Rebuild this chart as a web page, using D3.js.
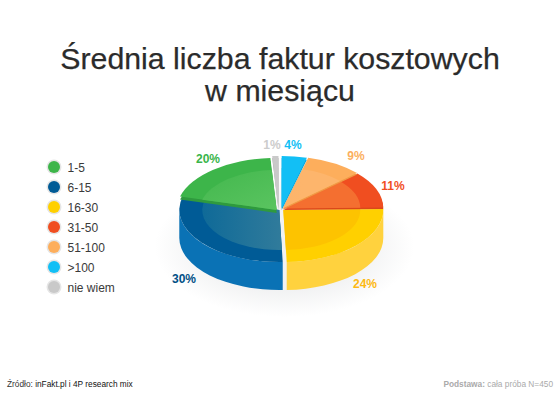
<!DOCTYPE html>
<html>
<head>
<meta charset="utf-8">
<script src="https://cdnjs.cloudflare.com/ajax/libs/d3/7.8.5/d3.min.js"></script>
<style>
html, body { margin: 0; padding: 0; background: #fff; }
text { font-family: "Liberation Sans", Arial, sans-serif; }
</style>
</head>
<body>
<svg id="chart" width="560" height="396"></svg>
<script>
const categories = [">100", "51-100", "31-50", "16-30", "6-15", "1-5", "nie wiem"];
const values = [4, 9, 11, 24, 30, 20, 1];
const legendOrder = ["1-5", "6-15", "16-30", "31-50", "51-100", ">100", "nie wiem"];

const colors = ["#12bff5", "#fdae5c", "#f04e20", "#ffd000", "#005b96", "#3db54a", "#c9c9c9"];
const labelColors = ["#12bff5", "#fbb05f", "#f1501f", "#fdb913", "#004f85", "#39b54a", "#cccccc"];
const wallColors = ["#0d9fd0", "#f09a45", "#d9481a", "#ffd23e", "#0a72b5", "#2f9a3e", "#aaaaaa"];
const innerColors = ["#12bff5", "#fdb064", "#f2662a", "#fdc300", "#0f6a98", "#46b950", "#c9c9c9"];
const innerEnd = ["#12bff5", "#fdb56c", "#f46f30", "#fdc300", "#387f9c", "#5ac460", "#c9c9c9"];

const svg = d3.select("#chart");
const cx = 280.5, cy = 209, rx = 100, ry = 52, depth = 28;
const defs = svg.append("defs");

const shadow = defs.append("radialGradient").attr("id", "shadow");
shadow.append("stop").attr("offset", "0.6").attr("stop-color", "#8a8f96").attr("stop-opacity", 0.12);
shadow.append("stop").attr("offset", "1").attr("stop-color", "#8a8f96").attr("stop-opacity", 0);

svg.append("ellipse").attr("cx", cx + 4).attr("cy", cy + depth + 10)
    .attr("rx", rx + 30).attr("ry", ry + 18).attr("fill", "url(#shadow)");

// title
svg.selectAll(".title")
    .data(["Średnia liczba faktur kosztowych", "w miesiącu"])
    .enter().append("text")
    .attr("class", "title")
    .attr("x", 280)
    .attr("y", (d, i) => 69 + i * 32)
    .attr("text-anchor", "middle")
    .attr("font-size", "30.3px")
    .attr("fill", "#2b2b2b")
    .attr("stroke", "#2b2b2b")
    .attr("stroke-width", 0.25)
    .text(d => d);

// legend
const legendY = d3.scalePoint().domain(legendOrder).range([167, 287]);
const legend = svg.selectAll(".legend")
    .data(legendOrder)
    .enter().append("g")
    .attr("class", "legend")
    .attr("transform", d => `translate(54,${legendY(d)})`);
legend.append("circle").attr("r", 7.5).attr("fill", "#e6e6e6");
legend.append("circle").attr("r", 6).attr("fill", d => colors[categories.indexOf(d)]);
legend.append("text")
    .attr("x", 13.5)
    .attr("y", 4.5)
    .attr("font-size", "12px")
    .attr("fill", "#3a3a3a")
    .text(d => d);

// pie, angles bent a little towards the viewer like the perspective of the original
const warp = a => a + (3.5 * Math.PI / 180) * (1 - Math.cos(a)) / 2;
const arcs = d3.pie().sort(null).value(d => d)(values).map(a => ({
    ...a,
    startAngle: warp(a.startAngle),
    endAngle: warp(a.endAngle)
}));
const arcTop = d3.arc().innerRadius(0).outerRadius(rx);
const arcInner = d3.arc().innerRadius(0).outerRadius(rx * 0.77);
const squash = ry / rx;

categories.forEach((c, i) => {
    const grad = defs.append("linearGradient").attr("id", "inner" + i)
        .attr("gradientUnits", "userSpaceOnUse")
        .attr("x1", -rx * 0.77).attr("x2", rx * 0.2).attr("y1", 0).attr("y2", 0);
    if (i === 5) grad.attr("x1", -rx * 0.6).attr("x2", 0).attr("y1", -rx * 0.7).attr("y2", 0);
    grad.append("stop").attr("offset", 0).attr("stop-color", innerColors[i]);
    grad.append("stop").attr("offset", 1).attr("stop-color", innerEnd[i]);
});

const shifts = [[1.2, -1], [2.5, -1], [2.8, -0.5], [2.8, 1], [-1.2, 1], [-3.8, 1], [-2, -1]];
const lips = [2, 1.5, 1.5, 0, 0, 3, 2];
const drawOrder = [3, 4, 2, 1, 0, 5, 6];

function wallPath(a) {
    const a0 = Math.max(a.startAngle, Math.PI / 2);
    const a1 = Math.min(a.endAngle, 3 * Math.PI / 2);
    if (a1 <= a0) return null;
    const x0 = rx * Math.sin(a0), y0 = -ry * Math.cos(a0);
    const x1 = rx * Math.sin(a1), y1 = -ry * Math.cos(a1);
    return `M${x0},${y0} A${rx},${ry} 0 0 1 ${x1},${y1} L${x1},${y1 + depth} A${rx},${ry} 0 0 0 ${x0},${y0 + depth} Z`;
}

drawOrder.forEach(i => {
    const a = arcs[i];
    const g = svg.append("g").attr("transform", `translate(${cx + shifts[i][0]},${cy + shifts[i][1]})`);
    const w = wallPath(a);
    if (w) g.append("path").attr("d", w).attr("fill", wallColors[i]);
    if (lips[i]) {
        g.append("path")
            .attr("transform", `translate(0,${lips[i]}) scale(1,${squash})`)
            .attr("d", arcTop(a))
            .attr("fill", wallColors[i]);
    }
    const face = g.append("g").attr("transform", `scale(1,${squash})`);
    face.append("path").attr("d", arcTop(a)).attr("fill", colors[i]);
    face.append("path").attr("d", arcInner(a)).attr("fill", `url(#inner${i})`);
});

// value labels
const labelX = [293, 356, 393, 365, 184, 208, 272];
const labelY = [149, 160, 190, 288, 283, 163, 149];
svg.selectAll(".value")
    .data(values)
    .enter().append("text")
    .attr("class", "value")
    .attr("x", (d, i) => labelX[i])
    .attr("y", (d, i) => labelY[i])
    .attr("text-anchor", "middle")
    .attr("font-size", "12px")
    .attr("font-weight", "bold")
    .attr("fill", (d, i) => labelColors[i])
    .text(d => d + "%");

// footer
const source = svg.append("text").attr("x", 7).attr("y", 387).attr("font-size", "8.3px").attr("fill", "#333");
source.append("tspan").text("Źródło: ");
source.append("tspan").attr("fill", "#111").text("inFakt.pl i 4P research mix");
const base = svg.append("text").attr("x", 553).attr("y", 387).attr("text-anchor", "end").attr("font-size", "8.3px").attr("fill", "#aaa");
base.append("tspan").attr("font-weight", "bold").text("Podstawa: ");
base.append("tspan").text("cała próba N=450");
</script>
</body>
</html>
